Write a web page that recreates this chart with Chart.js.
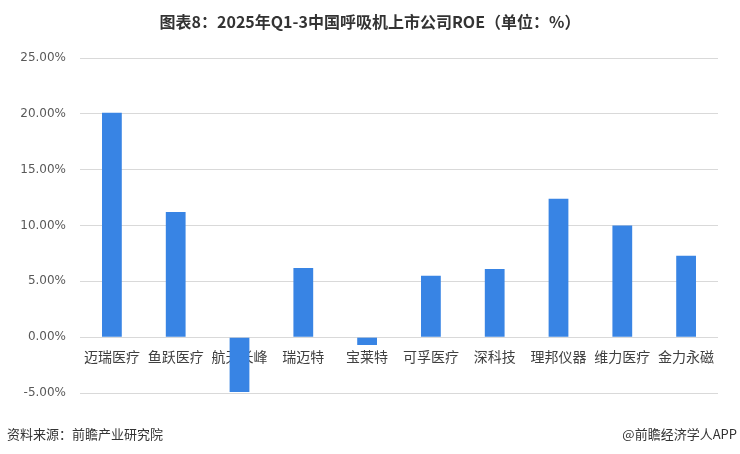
<!DOCTYPE html>
<html>
<head>
<meta charset="utf-8">
<script src="https://cdn.jsdelivr.net/npm/chart.js@4"></script>
<style>
  html, body { margin: 0; padding: 0; background: #fff; }
  #wrap { position: relative; width: 740px; height: 454px; overflow: hidden; }
  #c { position: absolute; left: 0; top: 0; }
  #title { position: absolute; left: 0; top: 9px; width: 740px; text-align: center; line-height: 24px;
    font-family: "Noto Sans CJK SC", sans-serif; font-weight: bold; font-size: 16px; color: #333; }
  .foot { position: absolute; top: 424px; line-height: 20px; font-family: "Noto Sans CJK SC", sans-serif; font-size: 13px; color: #333; }
</style>
</head>
<body>
<div id="wrap">
  <canvas id="c" width="740" height="454"></canvas>
  <div id="title">图表8：2025年Q1-3中国呼吸机上市公司ROE（单位：%）</div>
  <div class="foot" style="left:7px;">资料来源：前瞻产业研究院</div>
  <div class="foot" style="right:3px;">@前瞻经济学人APP</div>
</div>
<script>
const categories = ['迈瑞医疗','鱼跃医疗','航天长峰','瑞迈特','宝莱特','可孚医疗','深科技','理邦仪器','维力医疗','金力永磁'];
const roeValues = [20.1, 11.2, -4.9, 6.2, -0.7, 5.5, 6.1, 12.4, 10.0, 7.3];
const yMin = -5, yMax = 25, yStep = 5;

new Chart(document.getElementById('c'), {
  type: 'bar',
  data: {
    labels: categories,
    datasets: [{
      data: roeValues,
      backgroundColor: '#3884E4',
      categoryPercentage: 1.0,
      barPercentage: 0.31
    }]
  },
  options: {
    responsive: false,
    animation: false,
    layout: { padding: { left: 0, right: 22, top: 58, bottom: 61 } },
    plugins: { legend: { display: false }, tooltip: { enabled: false } },
    scales: {
      x: {
        position: { y: 0 },
        grid: { display: false },
        border: { display: false },
        ticks: { color: '#404040', font: { family: 'Noto Sans CJK SC', size: 14 }, padding: 3, maxRotation: 0, autoSkip: false }
      },
      y: {
        min: yMin, max: yMax,
        afterFit: (s) => { s.width = 80; },
        grid: { color: '#d9d9d9', drawTicks: false },
        border: { display: false },
        ticks: {
          stepSize: yStep,
          padding: 14,
          color: '#595959',
          font: { family: 'Verdana, DejaVu Sans', size: 12 },
          callback: (v) => v.toFixed(2) + '%'
        }
      }
    }
  }
});
</script>
</body>
</html>
